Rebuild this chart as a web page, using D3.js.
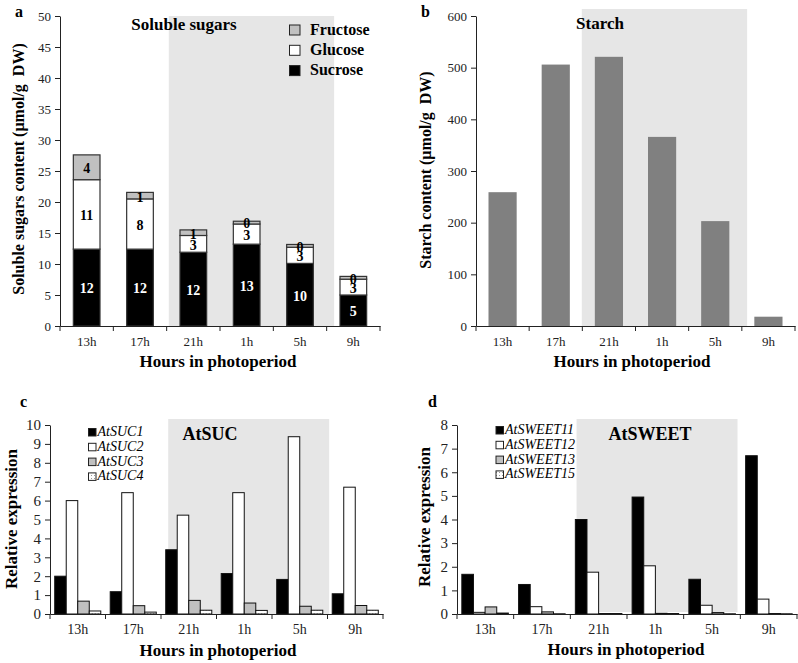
<!DOCTYPE html>
<html>
<head>
<meta charset="utf-8">
<script src="https://cdn.jsdelivr.net/npm/d3@7"></script>
<style>
  html, body { margin: 0; padding: 0; background: #fff; }
  svg { display: block; }
  text { font-family: "Liberation Serif", "Times New Roman", serif; white-space: pre; }
</style>
</head>
<body>
<svg id="chart" width="798" height="663"></svg>
<script>
// ---------- data ----------
const hours = ["13h", "17h", "21h", "1h", "5h", "9h"];

// panel a: soluble sugars (µmol/g DW)
const sugarNames = ["Fructose", "Glucose", "Sucrose"];
const sucrose  = [12.4, 12.4, 11.9, 13.2, 10.1, 5.0];
const glucose  = [11.2, 8.1, 2.7, 3.25, 2.6, 2.55];
const fructose = [4.0, 1.05, 0.9, 0.45, 0.45, 0.45];

// panel b: starch (µmol/g DW)
const starch = [259, 506, 521, 366, 203, 18];

// panel c: AtSUC relative expression
const sucNames = ["AtSUC1", "AtSUC2", "AtSUC3", "AtSUC4"];
const suc1 = [2.0, 1.18, 3.4, 2.14, 1.83, 1.07];
const suc2 = [6.0, 6.42, 5.23, 6.42, 9.38, 6.71];
const suc3 = [0.68, 0.44, 0.72, 0.58, 0.41, 0.45];
const suc4 = [0.16, 0.10, 0.20, 0.19, 0.20, 0.20];

// panel d: AtSWEET relative expression
const sweetNames = ["AtSWEET11", "AtSWEET12", "AtSWEET13", "AtSWEET15"];
const sweet11 = [1.68, 1.25, 4.0, 4.95, 1.47, 6.7];
const sweet12 = [0.07, 0.31, 1.77, 2.04, 0.37, 0.63];
const sweet13 = [0.30, 0.09, 0.02, 0.03, 0.06, 0.02];
const sweet15 = [0.04, 0.01, 0.02, 0.02, 0.01, 0.01];

// tick values
const ticksA = [0, 5, 10, 15, 20, 25, 30, 35, 40, 45, 50];
const ticksB = [0, 100, 200, 300, 400, 500, 600];
const ticksC = [0, 1, 2, 3, 4, 5, 6, 7, 8, 9, 10];
const ticksD = [0, 1, 2, 3, 4, 5, 6, 7, 8];

// ---------- drawing ----------
const svg = d3.select("#chart");
const SERIF = '"Liberation Serif", "Times New Roman", serif';
const SANS = '"Liberation Sans", Arial, sans-serif';
const SHADE = "#e6e6e6";
const GRAY = "#c0c0c0";

const defs = svg.append("defs");
const pat = defs.append("pattern").attr("id", "dots")
  .attr("patternUnits", "userSpaceOnUse").attr("width", 3).attr("height", 3);
pat.append("rect").attr("width", 3).attr("height", 3).attr("fill", "#fff");
pat.append("rect").attr("x", 1).attr("y", 1).attr("width", 1).attr("height", 1).attr("fill", "#999");

function makePanel(o) {
  const xa = d3.scaleBand().domain(hours).range([o.x0, o.x1]).padding(0);
  const xb = d3.scaleBand().domain(hours).range([o.x0, o.x1])
    .paddingInner(o.padIn).paddingOuter(o.padOut);
  const y = d3.scaleLinear().domain([0, o.max]).range([o.y0, o.y1]);
  const bx = d3.scaleLinear().domain([0, hours.length]).range([o.x0, o.x1]);
  const g = svg.append("g");
  // night shading
  g.append("rect")
    .attr("x", bx(o.shade[0])).attr("width", bx(o.shade[1]) - bx(o.shade[0]))
    .attr("y", y(o.max) - o.shadeTop).attr("height", y(0) - o.shadeBottom - (y(o.max) - o.shadeTop))
    .attr("fill", SHADE);
  return { g, xa, xb, y, o };
}

function drawAxes(p, ticks, yFont, xFont) {
  const { g, xa, y, o } = p;
  // y axis
  const ya = g.append("g").attr("transform", `translate(${o.x0},0)`)
    .call(d3.axisLeft(y).tickValues(ticks).tickSize(5).tickSizeOuter(0).tickPadding(4));
  ya.select(".domain").attr("stroke", "#222");
  ya.selectAll(".tick line").attr("stroke", "#222");
  ya.selectAll(".tick text").attr("font-family", SERIF).attr("font-size", yFont).attr("fill", "#222");
  // x axis
  const xg = g.append("g").attr("transform", `translate(0,${o.y0})`)
    .call(d3.axisBottom(xa).tickSize(0).tickSizeOuter(0).tickPadding(o.xPad));
  xg.select(".domain").attr("stroke", "#222");
  xg.selectAll(".tick text").attr("font-family", SERIF).attr("font-size", xFont).attr("fill", "#222");
  const bounds = hours.map(h => xa(h)).concat([xa.range()[1]]);
  g.append("g").selectAll("line").data(bounds).join("line")
    .attr("x1", d => d).attr("x2", d => d)
    .attr("y1", o.y0).attr("y2", o.y0 + 5)
    .attr("stroke", "#222");
}

function label(txt, x, y, opts = {}) {
  const t = svg.append("text").attr("x", x).attr("y", y)
    .attr("font-family", opts.family || SERIF)
    .attr("font-size", opts.size || 17)
    .attr("font-weight", opts.weight || "bold")
    .attr("font-style", opts.style || "normal")
    .attr("text-anchor", opts.anchor || "middle")
    .attr("fill", opts.fill || "#000")
    .text(txt);
  if (opts.rotate) t.attr("transform", `rotate(-90,${x},${y})`);
  return t;
}

// ===== Panel a =====
{
  const p = makePanel({ x0: 60, x1: 380, y0: 326, y1: 16, max: 50, padIn: 0.5, padOut: 0.25,
    shade: [2.04, 5.14], shadeTop: 0, shadeBottom: 0, xPad: 11 });
  const { g, xb, y } = p;
  const stackData = hours.map((h, i) => ({ h, Sucrose: sucrose[i], Glucose: glucose[i], Fructose: fructose[i] }));
  const series = d3.stack().keys(["Sucrose", "Glucose", "Fructose"])(stackData);
  const fills = { Sucrose: "#000", Glucose: "#fff", Fructose: GRAY };
  const lblFill = { Sucrose: "#fff", Glucose: "#000", Fructose: "#000" };
  series.forEach(s => {
    g.append("g").selectAll("rect").data(s).join("rect")
      .attr("x", d => xb(d.data.h)).attr("width", xb.bandwidth())
      .attr("y", d => y(d[1])).attr("height", d => y(d[0]) - y(d[1]))
      .attr("fill", fills[s.key]).attr("stroke", "#333").attr("stroke-width", 1.2);
  });
  series.forEach(s => {
    g.append("g").selectAll("text").data(s).join("text")
      .attr("x", d => xb(d.data.h) + xb.bandwidth() / 2)
      .attr("y", d => (y(d[0]) + y(d[1])) / 2)
      .attr("dy", "0.42em")
      .attr("text-anchor", "middle")
      .attr("font-family", SERIF).attr("font-weight", "bold").attr("font-size", 14)
      .attr("fill", lblFill[s.key])
      .text(d => Math.round(d[1] - d[0]));
  });
  drawAxes(p, ticksA, 13, 13);
  label("Soluble sugars", 184, 30, { size: 17 });
  // legend
  const lg = svg.append("g");
  sugarNames.forEach((n, i) => {
    lg.append("rect").attr("x", 289.5).attr("y", 25 + i * 20.3).attr("width", 10.5).attr("height", 10)
      .attr("fill", fills[n]).attr("stroke", "#222").attr("stroke-width", 1);
    label(n, 310, 34.5 + i * 20.3, { size: 16, anchor: "start" });
  });
  label("Soluble sugars content (µmol/g  DW)", 24, 169, { size: 16, rotate: true });
  label("Hours in photoperiod", 218, 367, { size: 17 });
  label("a", 15, 17, { family: SANS, size: 16, anchor: "start" });
}

// ===== Panel b =====
{
  const p = makePanel({ x0: 476, x1: 795, y0: 326, y1: 16, max: 600, padIn: 0.47, padOut: 0.235,
    shade: [1.99, 5.1], shadeTop: 7, shadeBottom: 0, xPad: 11 });
  const { g, xb, y } = p;
  g.append("g").selectAll("rect").data(starch).join("rect")
    .attr("x", (d, i) => xb(hours[i])).attr("width", xb.bandwidth())
    .attr("y", d => y(d)).attr("height", d => y(0) - y(d))
    .attr("fill", "#808080");
  drawAxes(p, ticksB, 13, 13);
  label("Starch", 600, 29, { size: 17 });
  label("Starch content (µmol/g  DW)", 431, 170, { size: 16, rotate: true });
  label("Hours in photoperiod", 632, 367, { size: 17 });
  label("b", 421, 17, { family: SANS, size: 16, anchor: "start" });
}

// grouped bars helper
function grouped(p, names, arrays, fills) {
  const { g, xb, y } = p;
  const xs = d3.scaleBand().domain(names).range([0, xb.bandwidth()]).padding(0);
  const rows = hours.map((h, i) => ({ h, vals: names.map((n, k) => ({ n, v: arrays[k][i] })) }));
  g.append("g").selectAll("g").data(rows).join("g")
    .attr("transform", d => `translate(${xb(d.h)},0)`)
    .selectAll("rect").data(d => d.vals).join("rect")
    .attr("x", d => xs(d.n)).attr("width", xs.bandwidth())
    .attr("y", d => y(d.v)).attr("height", d => y(0) - y(d.v))
    .attr("fill", d => fills[names.indexOf(d.n)])
    .attr("stroke", "#111").attr("stroke-width", 1);
}

function seriesLegend(names, fills, x, y0) {
  names.forEach((n, i) => {
    svg.append("rect").attr("x", x).attr("y", y0 + i * 14.8 - 7.5).attr("width", 7.5).attr("height", 7.5)
      .attr("fill", fills[i]).attr("stroke", "#222").attr("stroke-width", 1);
    label(n, x + 9, y0 + i * 14.8, { size: 14, weight: "normal", style: "italic", anchor: "start" });
  });
}

const seriesFills = ["#000", "#fff", GRAY, "url(#dots)"];

// ===== Panel c =====
{
  const p = makePanel({ x0: 50, x1: 383, y0: 614, y1: 425, max: 10, padIn: 0.17, padOut: 0.085,
    shade: [2.13, 5.03], shadeTop: 6, shadeBottom: 0, xPad: 10 });
  grouped(p, sucNames, [suc1, suc2, suc3, suc4], seriesFills);
  drawAxes(p, ticksC, 15, 14);
  seriesLegend(sucNames, seriesFills, 88.5, 436);
  label("AtSUC", 210, 440, { size: 18 });
  label("Relative expression", 17, 519, { size: 17, rotate: true });
  label("Hours in photoperiod", 218, 656, { size: 17 });
  label("c", 20, 407, { family: SANS, size: 16, anchor: "start" });
}

// ===== Panel d =====
{
  const p = makePanel({ x0: 457, x1: 797, y0: 614, y1: 425, max: 8, padIn: 0.18, padOut: 0.085,
    shade: [2.11, 4.95], shadeTop: 6, shadeBottom: 2, xPad: 10 });
  grouped(p, sweetNames, [sweet11, sweet12, sweet13, sweet15], seriesFills);
  drawAxes(p, ticksD, 15, 14);
  seriesLegend(sweetNames, seriesFills, 496, 434);
  label("AtSWEET", 650, 440, { size: 18 });
  label("Relative expression", 430, 517, { size: 17, rotate: true });
  label("Hours in photoperiod", 626, 655, { size: 17 });
  label("d", 428, 407, { family: SANS, size: 16, anchor: "start" });
}
</script>
</body>
</html>
